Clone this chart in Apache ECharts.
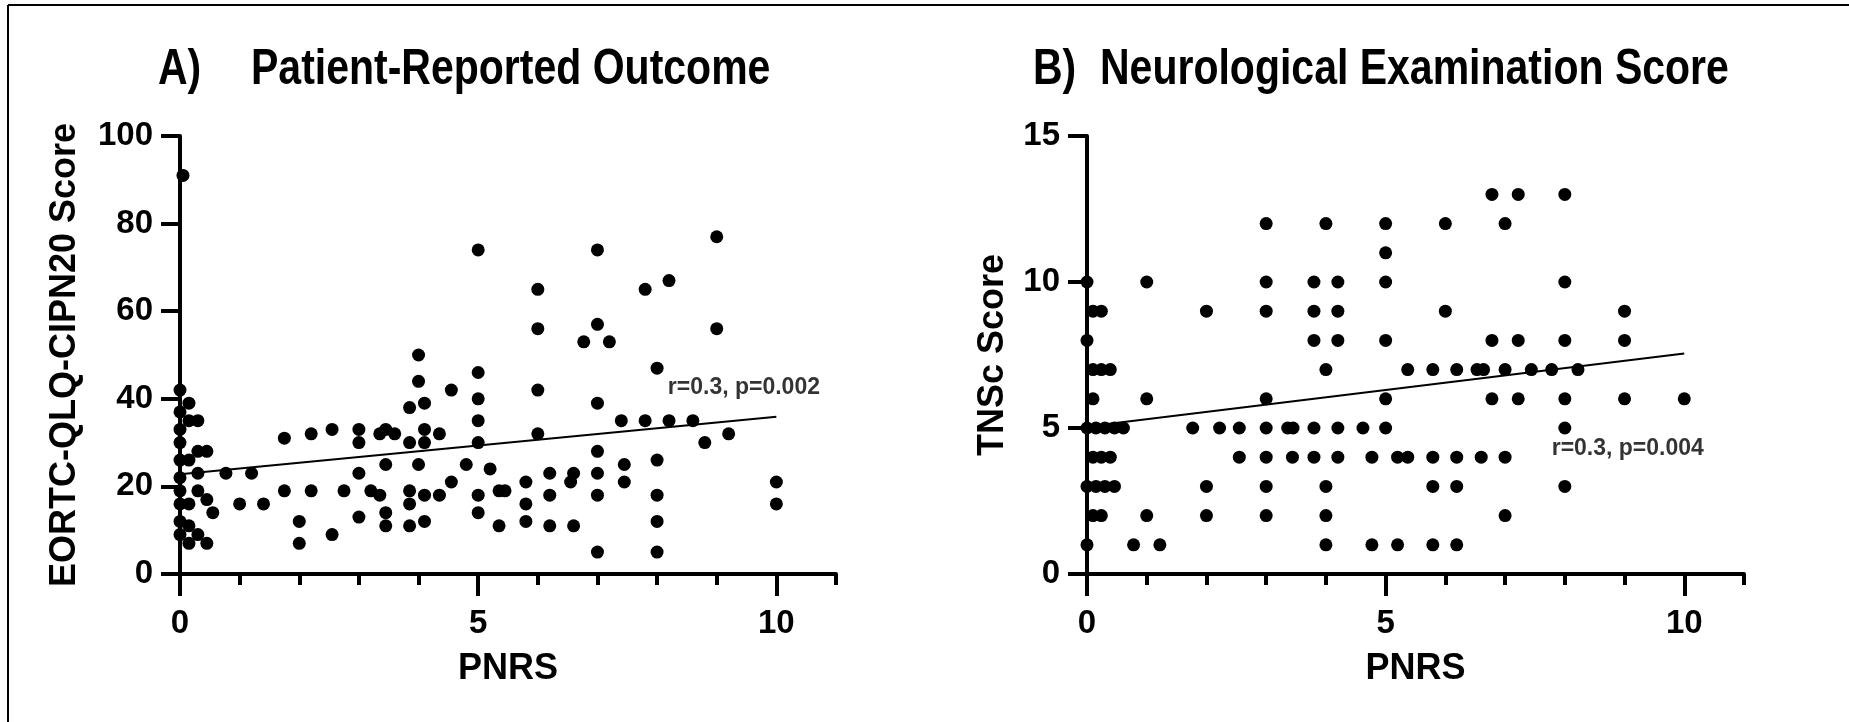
<!DOCTYPE html>
<html>
<head>
<meta charset="utf-8">
<script src="https://cdn.jsdelivr.net/npm/echarts@6/dist/echarts.min.js"></script>
<style>
html, body { margin: 0; padding: 0; background: #fff; }
#chart { width: 1849px; height: 722px; }
</style>
</head>
<body>
<div id="chart"></div>
<script>
var FONT = '"Liberation Sans", Arial, sans-serif';

// A) EORTC-QLQ-CIPN20 score vs PNRS  [PNRS, score]
var proPoints = [
  [0.05, 91],
  [0, 42], [0.15, 39], [0, 37], [0.15, 35], [0.3, 35], [0, 33], [0, 30], [0.3, 28], [0.45, 28],
  [0, 26], [0.15, 26], [0.3, 23], [0, 22], [0.77, 23], [1.2, 23], [0, 19], [0.3, 19], [0.45, 17],
  [0, 16], [0.15, 16], [1, 16], [1.4, 16], [0.55, 14], [0, 12], [0.15, 11], [0, 9], [0.3, 9],
  [0.15, 7], [0.45, 7],
  [1.75, 31], [2.2, 32], [2.55, 33], [3, 33], [3, 30], [3.35, 32], [3.45, 33], [3.6, 32], [3.85, 30],
  [3.85, 38], [4, 50], [4, 44], [4.1, 39], [4.1, 33], [4.1, 30], [4.35, 32], [4.55, 42], [4.8, 25],
  [4, 25], [3.45, 25], [3, 23], [1.75, 19], [2.2, 19], [2.75, 19], [3.2, 19], [3.35, 18], [3.85, 19],
  [3.85, 16], [4.1, 18], [4.35, 18], [4.55, 21], [2, 12], [2, 7], [2.55, 9], [3, 13], [3.45, 14],
  [3.45, 11], [3.85, 11], [4.1, 12],
  [5, 74], [7, 74], [9, 77], [6, 65], [7.8, 65], [8.2, 67], [6, 56], [7, 57], [6.77, 53], [7.2, 53],
  [9, 56], [5, 46], [8, 47], [6, 42], [5, 40], [7, 39], [5, 35], [7.4, 35], [7.8, 35], [8.2, 35],
  [8.6, 35], [9.2, 32], [8.8, 30], [6, 32], [5, 30], [7, 28], [5.2, 24], [5.8, 21], [6.2, 23],
  [6.6, 23], [6.55, 21], [7, 23], [7.45, 25], [7.45, 21], [8, 26], [5, 18], [5.35, 19], [5.45, 19],
  [5.8, 16], [6.2, 18], [7, 18], [8, 18], [5, 14], [5.35, 11], [5.8, 12], [6.2, 11], [6.6, 11],
  [8, 12], [7, 5], [8, 5], [10, 21], [10, 16]
];
var proFit = [[0, 22.8], [10, 35.9]];
var proNote = [[8.18, 42.5]];

// B) TNSc score vs PNRS  [PNRS, score]
var tnsPoints = [
  [6.78, 13], [7.22, 13], [8, 13],
  [3, 12], [4, 12], [5, 12], [6, 12], [7, 12],
  [5, 11],
  [0, 10], [1, 10], [3, 10], [3.8, 10], [4.2, 10], [5, 10], [8, 10],
  [0.1, 9], [0.24, 9], [2, 9], [3, 9], [3.8, 9], [4.2, 9], [6, 9], [9, 9],
  [0, 8], [3.8, 8], [4.2, 8], [5, 8], [6.78, 8], [7.22, 8], [8, 8], [9, 8],
  [0.1, 7], [0.24, 7], [0.39, 7], [4, 7], [5.37, 7], [5.79, 7], [6.19, 7], [6.53, 7], [6.64, 7],
  [7, 7], [7.44, 7], [7.78, 7], [8.22, 7],
  [0.1, 6], [1, 6], [3, 6], [5, 6], [6.78, 6], [7.22, 6], [8, 6], [9, 6], [10, 6],
  [0, 5], [0.15, 5], [0.3, 5], [0.46, 5], [0.61, 5], [1.77, 5], [2.22, 5], [2.55, 5], [3, 5],
  [3.36, 5], [3.45, 5], [3.8, 5], [4.2, 5], [4.62, 5], [5, 5], [8, 5],
  [0.1, 4], [0.24, 4], [0.39, 4], [2.55, 4], [3, 4], [3.44, 4], [3.8, 4], [4.2, 4], [4.77, 4],
  [5.2, 4], [5.37, 4], [5.79, 4], [6.19, 4], [6.6, 4], [7, 4],
  [0, 3], [0.15, 3], [0.3, 3], [0.46, 3], [2, 3], [3, 3], [4, 3], [5.79, 3], [6.19, 3], [8, 3],
  [0.1, 2], [0.24, 2], [1, 2], [2, 2], [3, 2], [4, 2], [7, 2],
  [0, 1], [0.78, 1], [1.22, 1], [4, 1], [4.77, 1], [5.2, 1], [5.79, 1], [6.19, 1]
];
var tnsFit = [[0, 5.05], [10, 7.55]];
var tnsNote = [[7.78, 4.3]];

var xMajor = [0, 5, 10];
var xMinor = [0, 1, 2, 3, 4, 5, 6, 7, 8, 9, 10, 11];

var chart = echarts.init(document.getElementById('chart'));

function boldText(size) {
  return { color: '#000', fontFamily: FONT, fontWeight: 'bold', fontSize: size };
}

// x axis drawn twice: short ticks every unit, long labelled ticks at 0/5/10
function minorX(grid) {
  return {
    type: 'value', gridIndex: grid, position: 'bottom', min: 0, max: 11,
    axisLine: { show: true, onZero: false, lineStyle: { color: '#000', width: 4 } },
    axisTick: { show: true, customValues: xMinor, length: 11, lineStyle: { color: '#000', width: 4 } },
    axisLabel: { show: false },
    splitLine: { show: false }
  };
}

function majorX(grid) {
  return {
    type: 'value', gridIndex: grid, position: 'bottom', min: 0, max: 11,
    name: 'PNRS', nameLocation: 'middle', nameGap: 77,
    nameTextStyle: boldText(36),
    axisLine: { show: false },
    axisTick: { show: true, customValues: xMajor, length: 22, lineStyle: { color: '#000', width: 4 } },
    axisLabel: Object.assign({ customValues: xMajor, margin: 33 }, boldText(33)),
    splitLine: { show: false }
  };
}

function yAxis(grid, max, step, name, gap) {
  return {
    type: 'value', gridIndex: grid, min: 0, max: max, interval: step,
    name: name, nameLocation: 'middle', nameGap: gap,
    nameTextStyle: boldText(36),
    axisLine: { show: true, onZero: false, lineStyle: { color: '#000', width: 4 } },
    axisTick: { show: true, length: 19, lineStyle: { color: '#000', width: 4 } },
    axisLabel: Object.assign({ margin: 27 }, boldText(33)),
    splitLine: { show: false }
  };
}

function dots(xi, yi, data) {
  return {
    type: 'scatter', xAxisIndex: xi, yAxisIndex: yi, data: data,
    symbol: 'circle', symbolSize: 13, itemStyle: { color: '#000', opacity: 1 }, silent: true
  };
}

function fit(xi, yi, data) {
  return {
    type: 'line', xAxisIndex: xi, yAxisIndex: yi, data: data,
    symbol: 'none', lineStyle: { color: '#000', width: 2 }, silent: true
  };
}

function note(xi, yi, data, text) {
  return {
    type: 'scatter', xAxisIndex: xi, yAxisIndex: yi, data: data,
    symbolSize: 0, silent: true,
    label: Object.assign({ show: true, position: 'right', distance: 0, formatter: text }, boldText(23))
  };
}

function titleText(x, text) {
  return {
    type: 'text', x: x, y: 70, scaleX: 0.82, silent: true,
    style: { text: text, fill: '#000', font: 'bold 50px ' + FONT, verticalAlign: 'middle' }
  };
}

chart.setOption({
  backgroundColor: '#fff',
  animation: false,
  grid: [
    { left: 180, top: 136, width: 656, height: 438 },
    { left: 1087, top: 136, width: 657, height: 438 }
  ],
  xAxis: [minorX(0), majorX(0), minorX(1), majorX(1)],
  yAxis: [
    yAxis(0, 100, 20, 'EORTC-QLQ-CIPN20 Score', 97),
    yAxis(1, 15, 5, 'TNSc Score', 76)
  ],
  series: [
    dots(0, 0, proPoints),
    fit(0, 0, proFit),
    note(0, 0, proNote, 'r=0.3, p=0.002'),
    dots(2, 1, tnsPoints),
    fit(2, 1, tnsFit),
    note(2, 1, tnsNote, 'r=0.3, p=0.004')
  ],
  graphic: [
    { type: 'line', silent: true, shape: { x1: 8, y1: 5, x2: 1849, y2: 5 }, style: { stroke: '#000', lineWidth: 2 } },
    { type: 'line', silent: true, shape: { x1: 8, y1: 5, x2: 8, y2: 722 }, style: { stroke: '#000', lineWidth: 2 } },
    titleText(158, 'A)'),
    titleText(251, 'Patient-Reported Outcome'),
    titleText(1033, 'B)'),
    titleText(1100, 'Neurological Examination Score')
  ]
});
</script>
</body>
</html>
